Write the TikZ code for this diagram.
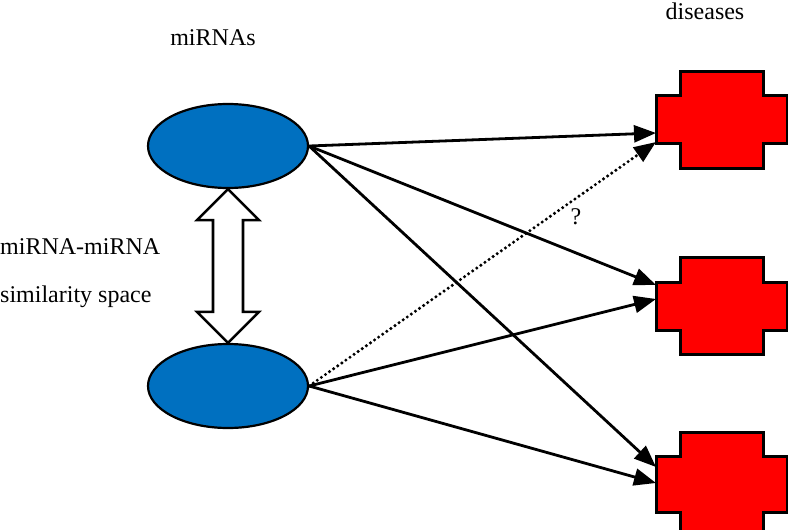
\documentclass[tikz,border=0pt]{standalone}
\usepackage{fontspec}
\setmainfont{Liberation Serif}
\usetikzlibrary{arrows.meta,shapes.geometric,calc}
\definecolor{mblue}{HTML}{0070C0}
\definecolor{dred}{HTML}{FF0000}
\begin{document}
\begin{tikzpicture}[x=1pt,y=-1pt,
  mirna/.style={ellipse,draw=black,line width=2.2pt,fill=mblue,minimum width=160pt,minimum height=84pt,inner sep=0pt},
  link/.style={line width=2.8pt,-{Triangle[length=22pt,width=17pt]}},
  dotlink/.style={line width=3.4pt,dash pattern=on 0pt off 5pt,line cap=round,-{Triangle[length=22pt,width=17pt]}},
  lbl/.style={font=\fontsize{24}{28}\selectfont,inner sep=0pt},
  crossshape/.style={draw=black,line width=3pt,fill=dred,line join=miter},
  dblarrow/.style={draw=black,line width=2.6pt,fill=white,line join=miter}]
\useasboundingbox (0,0) rectangle (788,530);

% labels
\node[lbl] (lm) at (213,38) {miRNAs};
\node[lbl] (ld) at (705,11) {diseases};
\node[lbl,anchor=west] (ls1) at (0,247) {miRNA-miRNA};
\node[lbl,anchor=west] (ls2) at (0,297) {similarity space};

% miRNAs
\node[mirna] (m1) at (228,146) {};
\node[mirna] (m2) at (228,386) {};

% double arrow between miRNAs
\draw[dblarrow] (m1.south) -- ++(31,31) -- ++(-16,0) -- ($(m2.north)+(15,-31)$) -- ++(16,0) -- (m2.north)
  -- ++(-31,-31) -- ++(16,0) -- ($(m1.south)+(-15,31)$) -- ++(-16,0) -- cycle;

% diseases (cross shapes)
\draw[crossshape] (680,71) -- (763,71) -- (763,95) -- (787,95) -- (787,143) -- (763,143) -- (763,168)
  -- (680,168) -- (680,143) -- (656,143) -- (656,95) -- (680,95) -- cycle;
\draw[crossshape] (680,257) -- (763,257) -- (763,282) -- (787,282) -- (787,330) -- (763,330) -- (763,354)
  -- (680,354) -- (680,330) -- (656,330) -- (656,282) -- (680,282) -- cycle;
\draw[crossshape] (680,432) -- (763,432) -- (763,456) -- (787,456) -- (787,512) -- (763,512) -- (763,531)
  -- (680,531) -- (680,512) -- (656,512) -- (656,456) -- (680,456) -- cycle;

\coordinate (d1a) at (656,133);
\coordinate (d1b) at (656,142);
\coordinate (d2a) at (656,285);
\coordinate (d2b) at (656,299);
\coordinate (d3a) at (656,467);
\coordinate (d3b) at (656,483);

% associations
\draw[link] (m1.east) -- (d1a);
\draw[link] (m1.east) -- (d2a);
\draw[link] (m1.east) -- (d3a);
\draw[dotlink] (m2.east) -- (d1b);
\draw[link] (m2.east) -- (d2b);
\draw[link] (m2.east) -- (d3b);

\node[lbl] (q) at (576,217) {?};
\end{tikzpicture}
\end{document}
